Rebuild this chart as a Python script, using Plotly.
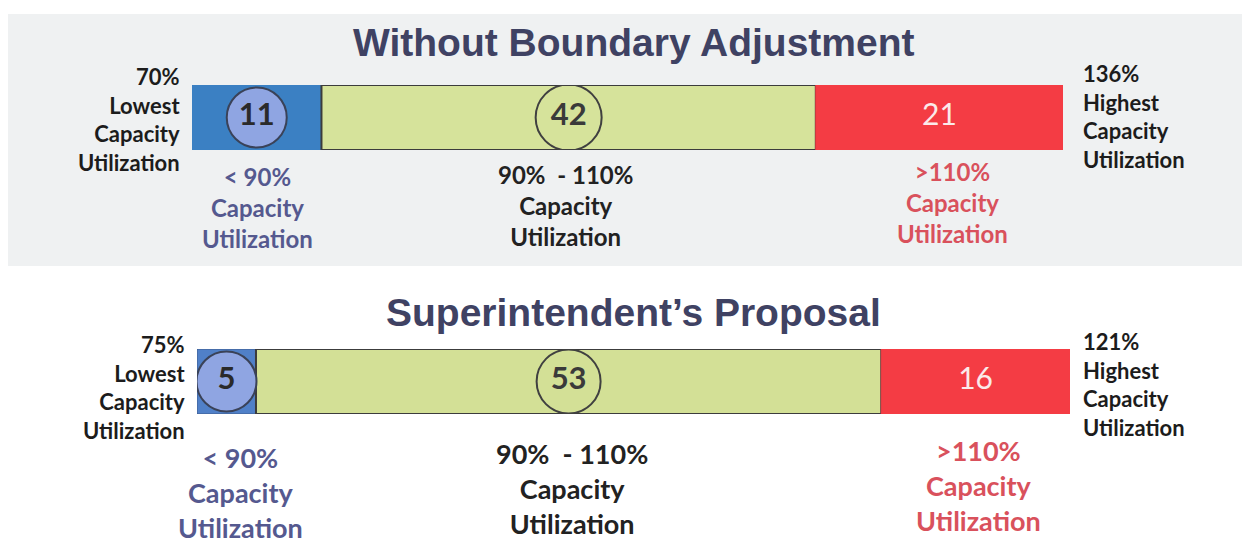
import plotly.graph_objects as go

# schools per utilization band, for each scenario
scenarios = ["Without Boundary Adjustment", "Superintendent\u2019s Proposal"]
bands = ["< 90%", "90% - 110%", ">110%"]
counts_before = [11, 42, 21]
counts_proposal = [5, 53, 16]
lowest_util = ["70%", "75%"]
highest_util = ["136%", "121%"]

W, H = 1250, 544
OFF = 8  # page body margin
seg_colors = [["#3b80c3", "#d6e39b", "#f43c44"], ["#5080c8", "#d3e096", "#f43c44"]]
circle_fill = ["#8fa5e2", "rgba(0,0,0,0)", None]
band_txt_col = ["#55598f", "#222222", "#d9515c"]

# pixel layout of each row: bar x span, bar y span, title y, label offsets
rows = [
    dict(x0=192, x1=1063, y0=85, y1=150, title_y=42, side_y=119, below=[(257, 208), (565, 205), (952, 202)],
         below_size=24, circ=[60, 66]),
    dict(x0=197, x1=1070, y0=349, y1=414, title_y=312, side_y=387, below=[(240, 492), (572, 488), (978, 485)],
         below_size=27, circ=[60, 64]),
]


def px(x):
    return (x - OFF) / (W - OFF)


def py(y):
    return 1 - (y - OFF) / (H - OFF)


fig = go.Figure()
annotations = []
shapes = [dict(type="rect", xref="paper", yref="paper", x0=px(8), x1=px(1246), y0=py(266), y1=py(14),
               fillcolor="#eff1f2", line_width=0, layer="below")]

for r, counts in enumerate([counts_before, counts_proposal]):
    row = rows[r]
    sfx = "" if r == 0 else "2"
    xa, ya = "x" + sfx, "y" + sfx
    starts = [sum(counts[:i]) for i in range(len(counts))]
    mids = [s + c / 2 for s, c in zip(starts, counts)]

    for i, c in enumerate(counts):
        fig.add_trace(go.Bar(
            x=[c], y=[0], base=[starts[i]], orientation="h", width=1,
            marker=dict(color=seg_colors[r][i],
                        line=dict(color="#3c3c3c" if i == 1 else ("#3d5a8c" if r == 1 and i == 0 else seg_colors[r][i]),
                                  width=2 if i == 1 else 1)),
            xaxis=xa, yaxis=ya, showlegend=False, hoverinfo="skip"))

    # circled counts
    for i in range(2):
        fig.add_trace(go.Scatter(
            x=[mids[i]], y=[0], mode="markers+text", text=[str(counts[i])],
            textposition="middle center",
            textfont=dict(family="Lato", size=31, color="#2a2a2a" if i == 0 else "#3a3a3a", weight="bold"),
            marker=dict(size=row["circ"][i], color=circle_fill[i], line=dict(color="#3a4258" if i == 0 else "#404040", width=2)),
            xaxis=xa, yaxis=ya, showlegend=False, hoverinfo="skip"))
    fig.add_trace(go.Scatter(
        x=[mids[2]], y=[0], mode="text", text=[str(counts[2])], textposition="middle center",
        textfont=dict(family="Lato", size=30, color="#fbeaea"),
        xaxis=xa, yaxis=ya, showlegend=False, hoverinfo="skip"))

    # title
    annotations.append(dict(x=px(633), y=py(row["title_y"]), xref="paper", yref="paper", showarrow=False,
                            text="<b>" + scenarios[r] + "</b>", xanchor="center", yanchor="middle",
                            font=dict(family="Liberation Sans", size=39, color="#3f4263")))
    # side labels
    annotations.append(dict(x=px(row["x0"] - 10), y=py(row["side_y"]), xref="paper", yref="paper", showarrow=False,
                            text="<b>" + lowest_util[r] + "<br>Lowest<br>Capacity<br>Utilization</b>",
                            xanchor="right", yanchor="middle", align="right",
                            font=dict(family="Lato", size=22, color="#1c1c1c")))
    annotations.append(dict(x=px(1081), y=py(row["side_y"] - 3), xref="paper", yref="paper", showarrow=False,
                            text="<b>" + highest_util[r] + "<br>Highest<br>Capacity<br>Utilization</b>",
                            xanchor="left", yanchor="middle", align="left",
                            font=dict(family="Lato", size=22, color="#1c1c1c")))
    # band labels under the bar
    for i, (bx, by) in enumerate(row["below"]):
        lab = bands[i].replace("90% - ", "90%\u00a0 - ")
        annotations.append(dict(x=px(bx), y=py(by), xref="paper", yref="paper", showarrow=False,
                                text="<b>" + lab + "<br>Capacity<br>Utilization</b>",
                                xanchor="center", yanchor="middle", align="center",
                                font=dict(family="Lato", size=row["below_size"], color=band_txt_col[i])))

    total = sum(counts)
    ax = dict(domain=[px(row["x0"]), px(row["x1"])], range=[0, total], visible=False, fixedrange=True)
    ay = dict(domain=[py(row["y1"]), py(row["y0"])], range=[-0.5, 0.5], visible=False, fixedrange=True)
    if r == 0:
        fig.update_layout(xaxis=ax, yaxis=ay)
    else:
        ax["anchor"] = "y2"
        ay["anchor"] = "x2"
        fig.update_layout(xaxis2=ax, yaxis2=ay)

fig.update_layout(
    width=W - OFF, height=H - OFF, margin=dict(l=0, r=0, t=0, b=0),
    paper_bgcolor="white", plot_bgcolor="rgba(0,0,0,0)",
    barmode="overlay", annotations=annotations, shapes=shapes,
)

fig.write_html("out.html")
